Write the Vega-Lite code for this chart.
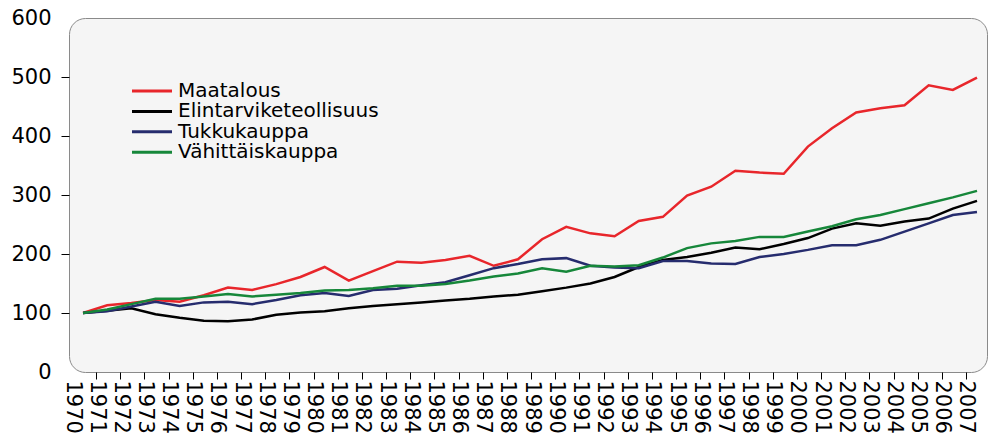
{
  "$schema": "https://vega.github.io/schema/vega-lite/v6.json",
  "width": 918,
  "height": 354,
  "autosize": {"type": "none"},
  "padding": {"left": 69, "top": 18, "right": 1, "bottom": 65},
  "background": "white",
  "config": {
    "font": "DejaVu Sans",
    "view": {"fill": "#f5f5f5", "stroke": "#8a8a8a", "strokeWidth": 1, "cornerRadius": 16}
  },
  "datasets": {
    "idx": [
      {"year": 1970, "series": "Maatalous", "value": 100},
      {"year": 1971, "series": "Maatalous", "value": 113},
      {"year": 1972, "series": "Maatalous", "value": 117},
      {"year": 1973, "series": "Maatalous", "value": 122},
      {"year": 1974, "series": "Maatalous", "value": 119},
      {"year": 1975, "series": "Maatalous", "value": 130},
      {"year": 1976, "series": "Maatalous", "value": 143},
      {"year": 1977, "series": "Maatalous", "value": 139},
      {"year": 1978, "series": "Maatalous", "value": 149},
      {"year": 1979, "series": "Maatalous", "value": 161},
      {"year": 1980, "series": "Maatalous", "value": 178},
      {"year": 1981, "series": "Maatalous", "value": 155},
      {"year": 1982, "series": "Maatalous", "value": 171},
      {"year": 1983, "series": "Maatalous", "value": 187},
      {"year": 1984, "series": "Maatalous", "value": 185},
      {"year": 1985, "series": "Maatalous", "value": 190},
      {"year": 1986, "series": "Maatalous", "value": 197},
      {"year": 1987, "series": "Maatalous", "value": 180},
      {"year": 1988, "series": "Maatalous", "value": 191},
      {"year": 1989, "series": "Maatalous", "value": 225},
      {"year": 1990, "series": "Maatalous", "value": 246},
      {"year": 1991, "series": "Maatalous", "value": 235},
      {"year": 1992, "series": "Maatalous", "value": 230},
      {"year": 1993, "series": "Maatalous", "value": 256},
      {"year": 1994, "series": "Maatalous", "value": 263},
      {"year": 1995, "series": "Maatalous", "value": 299},
      {"year": 1996, "series": "Maatalous", "value": 314},
      {"year": 1997, "series": "Maatalous", "value": 341},
      {"year": 1998, "series": "Maatalous", "value": 338},
      {"year": 1999, "series": "Maatalous", "value": 336},
      {"year": 2000, "series": "Maatalous", "value": 382},
      {"year": 2001, "series": "Maatalous", "value": 413},
      {"year": 2002, "series": "Maatalous", "value": 440},
      {"year": 2003, "series": "Maatalous", "value": 447},
      {"year": 2004, "series": "Maatalous", "value": 452},
      {"year": 2005, "series": "Maatalous", "value": 486},
      {"year": 2006, "series": "Maatalous", "value": 478},
      {"year": 2007, "series": "Maatalous", "value": 499},
      {"year": 1970, "series": "Elintarviketeollisuus", "value": 100},
      {"year": 1971, "series": "Elintarviketeollisuus", "value": 104},
      {"year": 1972, "series": "Elintarviketeollisuus", "value": 108},
      {"year": 1973, "series": "Elintarviketeollisuus", "value": 98},
      {"year": 1974, "series": "Elintarviketeollisuus", "value": 92},
      {"year": 1975, "series": "Elintarviketeollisuus", "value": 87},
      {"year": 1976, "series": "Elintarviketeollisuus", "value": 86},
      {"year": 1977, "series": "Elintarviketeollisuus", "value": 89},
      {"year": 1978, "series": "Elintarviketeollisuus", "value": 97},
      {"year": 1979, "series": "Elintarviketeollisuus", "value": 101},
      {"year": 1980, "series": "Elintarviketeollisuus", "value": 103},
      {"year": 1981, "series": "Elintarviketeollisuus", "value": 108},
      {"year": 1982, "series": "Elintarviketeollisuus", "value": 112},
      {"year": 1983, "series": "Elintarviketeollisuus", "value": 115},
      {"year": 1984, "series": "Elintarviketeollisuus", "value": 118},
      {"year": 1985, "series": "Elintarviketeollisuus", "value": 121},
      {"year": 1986, "series": "Elintarviketeollisuus", "value": 124},
      {"year": 1987, "series": "Elintarviketeollisuus", "value": 128},
      {"year": 1988, "series": "Elintarviketeollisuus", "value": 131},
      {"year": 1989, "series": "Elintarviketeollisuus", "value": 137},
      {"year": 1990, "series": "Elintarviketeollisuus", "value": 143},
      {"year": 1991, "series": "Elintarviketeollisuus", "value": 150},
      {"year": 1992, "series": "Elintarviketeollisuus", "value": 161},
      {"year": 1993, "series": "Elintarviketeollisuus", "value": 178},
      {"year": 1994, "series": "Elintarviketeollisuus", "value": 190},
      {"year": 1995, "series": "Elintarviketeollisuus", "value": 195},
      {"year": 1996, "series": "Elintarviketeollisuus", "value": 202},
      {"year": 1997, "series": "Elintarviketeollisuus", "value": 211},
      {"year": 1998, "series": "Elintarviketeollisuus", "value": 208},
      {"year": 1999, "series": "Elintarviketeollisuus", "value": 217},
      {"year": 2000, "series": "Elintarviketeollisuus", "value": 227},
      {"year": 2001, "series": "Elintarviketeollisuus", "value": 243},
      {"year": 2002, "series": "Elintarviketeollisuus", "value": 252},
      {"year": 2003, "series": "Elintarviketeollisuus", "value": 248},
      {"year": 2004, "series": "Elintarviketeollisuus", "value": 255},
      {"year": 2005, "series": "Elintarviketeollisuus", "value": 260},
      {"year": 2006, "series": "Elintarviketeollisuus", "value": 277},
      {"year": 2007, "series": "Elintarviketeollisuus", "value": 290},
      {"year": 1970, "series": "Tukkukauppa", "value": 100},
      {"year": 1971, "series": "Tukkukauppa", "value": 103},
      {"year": 1972, "series": "Tukkukauppa", "value": 111},
      {"year": 1973, "series": "Tukkukauppa", "value": 119},
      {"year": 1974, "series": "Tukkukauppa", "value": 112},
      {"year": 1975, "series": "Tukkukauppa", "value": 118},
      {"year": 1976, "series": "Tukkukauppa", "value": 119},
      {"year": 1977, "series": "Tukkukauppa", "value": 115},
      {"year": 1978, "series": "Tukkukauppa", "value": 122},
      {"year": 1979, "series": "Tukkukauppa", "value": 130},
      {"year": 1980, "series": "Tukkukauppa", "value": 134},
      {"year": 1981, "series": "Tukkukauppa", "value": 129},
      {"year": 1982, "series": "Tukkukauppa", "value": 139},
      {"year": 1983, "series": "Tukkukauppa", "value": 141},
      {"year": 1984, "series": "Tukkukauppa", "value": 147},
      {"year": 1985, "series": "Tukkukauppa", "value": 152},
      {"year": 1986, "series": "Tukkukauppa", "value": 164},
      {"year": 1987, "series": "Tukkukauppa", "value": 176},
      {"year": 1988, "series": "Tukkukauppa", "value": 183},
      {"year": 1989, "series": "Tukkukauppa", "value": 191},
      {"year": 1990, "series": "Tukkukauppa", "value": 193},
      {"year": 1991, "series": "Tukkukauppa", "value": 180},
      {"year": 1992, "series": "Tukkukauppa", "value": 177},
      {"year": 1993, "series": "Tukkukauppa", "value": 176},
      {"year": 1994, "series": "Tukkukauppa", "value": 188},
      {"year": 1995, "series": "Tukkukauppa", "value": 188},
      {"year": 1996, "series": "Tukkukauppa", "value": 184},
      {"year": 1997, "series": "Tukkukauppa", "value": 183},
      {"year": 1998, "series": "Tukkukauppa", "value": 195},
      {"year": 1999, "series": "Tukkukauppa", "value": 200},
      {"year": 2000, "series": "Tukkukauppa", "value": 207},
      {"year": 2001, "series": "Tukkukauppa", "value": 215},
      {"year": 2002, "series": "Tukkukauppa", "value": 215},
      {"year": 2003, "series": "Tukkukauppa", "value": 224},
      {"year": 2004, "series": "Tukkukauppa", "value": 238},
      {"year": 2005, "series": "Tukkukauppa", "value": 252},
      {"year": 2006, "series": "Tukkukauppa", "value": 266},
      {"year": 2007, "series": "Tukkukauppa", "value": 271},
      {"year": 1970, "series": "Vähittäiskauppa", "value": 100},
      {"year": 1971, "series": "Vähittäiskauppa", "value": 106},
      {"year": 1972, "series": "Vähittäiskauppa", "value": 115},
      {"year": 1973, "series": "Vähittäiskauppa", "value": 124},
      {"year": 1974, "series": "Vähittäiskauppa", "value": 124},
      {"year": 1975, "series": "Vähittäiskauppa", "value": 128},
      {"year": 1976, "series": "Vähittäiskauppa", "value": 132},
      {"year": 1977, "series": "Vähittäiskauppa", "value": 128},
      {"year": 1978, "series": "Vähittäiskauppa", "value": 131},
      {"year": 1979, "series": "Vähittäiskauppa", "value": 134},
      {"year": 1980, "series": "Vähittäiskauppa", "value": 138},
      {"year": 1981, "series": "Vähittäiskauppa", "value": 139},
      {"year": 1982, "series": "Vähittäiskauppa", "value": 142},
      {"year": 1983, "series": "Vähittäiskauppa", "value": 146},
      {"year": 1984, "series": "Vähittäiskauppa", "value": 146},
      {"year": 1985, "series": "Vähittäiskauppa", "value": 149},
      {"year": 1986, "series": "Vähittäiskauppa", "value": 155},
      {"year": 1987, "series": "Vähittäiskauppa", "value": 162},
      {"year": 1988, "series": "Vähittäiskauppa", "value": 167},
      {"year": 1989, "series": "Vähittäiskauppa", "value": 176},
      {"year": 1990, "series": "Vähittäiskauppa", "value": 170},
      {"year": 1991, "series": "Vähittäiskauppa", "value": 180},
      {"year": 1992, "series": "Vähittäiskauppa", "value": 179},
      {"year": 1993, "series": "Vähittäiskauppa", "value": 181},
      {"year": 1994, "series": "Vähittäiskauppa", "value": 194},
      {"year": 1995, "series": "Vähittäiskauppa", "value": 210},
      {"year": 1996, "series": "Vähittäiskauppa", "value": 218},
      {"year": 1997, "series": "Vähittäiskauppa", "value": 222},
      {"year": 1998, "series": "Vähittäiskauppa", "value": 229},
      {"year": 1999, "series": "Vähittäiskauppa", "value": 229},
      {"year": 2000, "series": "Vähittäiskauppa", "value": 238},
      {"year": 2001, "series": "Vähittäiskauppa", "value": 247},
      {"year": 2002, "series": "Vähittäiskauppa", "value": 259},
      {"year": 2003, "series": "Vähittäiskauppa", "value": 266},
      {"year": 2004, "series": "Vähittäiskauppa", "value": 276},
      {"year": 2005, "series": "Vähittäiskauppa", "value": 286},
      {"year": 2006, "series": "Vähittäiskauppa", "value": 296},
      {"year": 2007, "series": "Vähittäiskauppa", "value": 307}
    ]
  },
  "data": {"name": "idx"},
  "mark": {"type": "line", "strokeWidth": 2.5},
  "encoding": {
    "x": {
      "field": "year",
      "type": "quantitative",
      "scale": {"domain": [1969.42, 2007.414], "nice": false, "zero": false},
      "axis": {
        "title": null,
        "values": [1970,1971,1972,1973,1974,1975,1976,1977,1978,1979,1980,1981,1982,1983,1984,1985,1986,1987,1988,1989,1990,1991,1992,1993,1994,1995,1996,1997,1998,1999,2000,2001,2002,2003,2004,2005,2006,2007],
        "format": "d",
        "labelAngle": 90,
        "labelAlign": "left",
        "labelBaseline": "middle",
        "tickOffset": -11,
        "tickSize": 7,
        "tickColor": "black",
        "tickOpacity": {"condition": {"test": "datum.value === 1970", "value": 0}, "value": 1},
        "labelPadding": 1,
        "labelFontSize": 21,
        "labelColor": "black",
        "labelFlush": false,
        "labelOverlap": false,
        "domain": false,
        "grid": false
      }
    },
    "y": {
      "field": "value",
      "type": "quantitative",
      "scale": {"domain": [0, 600], "nice": false},
      "axis": {
        "title": null,
        "values": [0, 100, 200, 300, 400, 500, 600],
        "tickSize": 8,
        "tickColor": "black",
        "tickOpacity": {"condition": {"test": "datum.value === 0 || datum.value === 600", "value": 0}, "value": 1},
        "labelPadding": 10,
        "labelFontSize": 21,
        "labelColor": "black",
        "labelFlush": false,
        "domain": false,
        "grid": false
      }
    },
    "color": {
      "field": "series",
      "type": "nominal",
      "scale": {
        "domain": ["Maatalous", "Elintarviketeollisuus", "Tukkukauppa", "Vähittäiskauppa"],
        "range": ["#e8262b", "#000000", "#262c6e", "#16873a"]
      },
      "legend": {
        "title": null,
        "orient": "none",
        "legendX": 73,
        "legendY": 63,
        "padding": 0,
        "symbolType": "M-4,0H4",
        "symbolSize": 100,
        "symbolStrokeWidth": 3,
        "labelOffset": 16,
        "labelFontSize": 20,
        "labelColor": "black",
        "rowPadding": 0.4,
        "labelLimit": 400
      }
    }
  }
}
